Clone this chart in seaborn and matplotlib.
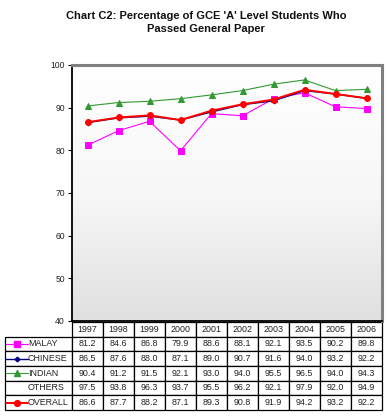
import matplotlib
matplotlib.use("Agg")
import matplotlib.pyplot as plt
from matplotlib.colors import LinearSegmentedColormap
from matplotlib.lines import Line2D
import numpy as np
import pandas as pd
import seaborn as sns

# ─── Data ─────────────────────────────────────────────────────────────────────
years   = [1997, 1998, 1999, 2000, 2001, 2002, 2003, 2004, 2005, 2006]
malay   = [81.2, 84.6, 86.8, 79.9, 88.6, 88.1, 92.1, 93.5, 90.2, 89.8]
chinese = [86.5, 87.6, 88.0, 87.1, 89.0, 90.7, 91.6, 94.0, 93.2, 92.2]
indian  = [90.4, 91.2, 91.5, 92.1, 93.0, 94.0, 95.5, 96.5, 94.0, 94.3]
others  = [97.5, 93.8, 96.3, 93.7, 95.5, 96.2, 92.1, 97.9, 92.0, 94.9]
overall = [86.6, 87.7, 88.2, 87.1, 89.3, 90.8, 91.9, 94.2, 93.2, 92.2]
yticks  = [40, 50, 60, 70, 80, 90, 100]

# ─── Styles ───────────────────────────────────────────────────────────────────
FONT = "Liberation Sans"
series = [
    # name, values, colour, marker, marker size, line width, plotted
    ("MALAY",   malay,   "#ff00ff", "s", 3.8, 0.8, True),
    ("CHINESE", chinese, "#000080", "D", 2.4, 1.0, True),
    ("INDIAN",  indian,  "#339933", "^", 4.2, 0.8, True),
    ("OTHERS",  others,  None,      None, 0,  0,   False),
    ("OVERALL", overall, "#ff0000", "o", 4.2, 1.4, True),
]

sns.set_style("white")
plt.rcParams["font.family"] = [FONT, "DejaVu Sans"]

W, H = 387, 418
fig = plt.figure(figsize=(W / 100, H / 100), dpi=100)
fig.patch.set_facecolor("white")

left, right, top, bottom = 72, 382, 65, 321
ax = fig.add_axes([left / W, 1 - bottom / H, (right - left) / W, (bottom - top) / H])

# gradient plot background, white at the top to light grey at the bottom
cmap = LinearSegmentedColormap.from_list("bg", ["#ffffff", "#f7f7f7", "#e0e0e0"])
grad = np.linspace(0, 1, 256)[:, None]
ax.imshow(grad, extent=[years[0] - 0.5, years[-1] + 0.5, 40, 100],
          origin="upper", aspect="auto", cmap=cmap, zorder=0)

for name, vals, col, mk, ms, lw, show in series:
    if not show:
        continue
    df = pd.DataFrame({"year": years, "pct": vals})
    sns.lineplot(data=df, x="year", y="pct", ax=ax, color=col, marker=mk,
                 markersize=ms, markeredgecolor=col, linewidth=lw, zorder=3)

ax.set_xlim(years[0] - 0.5, years[-1] + 0.5)
ax.set_ylim(40, 100)
ax.set_yticks(yticks)
ax.set_yticklabels([str(t) for t in yticks], fontsize=6.2, color="#222222")
ax.set_xticks([])
ax.set_xlabel("")
ax.set_ylabel("")
ax.tick_params(axis="y", direction="out", length=3, width=0.8, color="black",
               left=True, pad=2)
for s in ["left", "bottom"]:
    ax.spines[s].set_color("black")
    ax.spines[s].set_linewidth(1.3)
for s in ["top", "right"]:
    ax.spines[s].set_color("#808080")
    ax.spines[s].set_linewidth(2.2)

# ─── Data table ───────────────────────────────────────────────────────────────
tab_left, tab_top, tab_bottom = 5, 322, 410
pw = right - left
ph = bottom - top
cell_text = [[name] + [f"{v:.1f}" for v in vals] for name, vals, *_ in series]
label_w = left - tab_left
col_w = [label_w] + [pw / len(years)] * len(years)
tbl = ax.table(
    cellText=cell_text,
    colLabels=[""] + [str(y) for y in years],
    colWidths=col_w,
    cellLoc="center",
    bbox=[(tab_left - left) / pw, -(tab_bottom - bottom) / ph,
          (right - tab_left) / pw, (tab_bottom - tab_top) / ph],
)
tbl.auto_set_font_size(False)
for (r, c), cell in tbl.get_celld().items():
    cell.set_linewidth(0.9)
    cell.set_edgecolor("black")
    cell.set_facecolor("white")
    cell.get_text().set_fontsize(6.4)
    cell.get_text().set_color("#222222")
    cell.get_text().set_fontfamily([FONT, "DejaVu Sans"])
    if r == 0 and c == 0:
        cell.visible_edges = ""
    if c == 0 and r > 0:
        cell.get_text().set_ha("left")
        cell._loc = "left"
        cell.PAD = 0.34

# legend keys inside row-label cells
row_h = (tab_bottom - tab_top) / (len(series) + 1)
for i, (name, vals, col, mk, ms, lw, show) in enumerate(series):
    if not show:
        continue
    yc = 1 - (tab_top + row_h * (i + 1.5)) / H
    fig.add_artist(Line2D([6 / W, 28 / W], [yc, yc], color=col, linewidth=lw,
                          transform=fig.transFigure, zorder=5))
    fig.add_artist(Line2D([17 / W], [yc], color=col, marker=mk, markersize=ms,
                          markeredgecolor=col, transform=fig.transFigure, zorder=6))

# ─── Title ────────────────────────────────────────────────────────────────────
fig.text(206 / W, 1 - 22.5 / H,
         "Chart C2: Percentage of GCE 'A' Level Students Who\nPassed General Paper",
         ha="center", va="center", fontsize=8.0, fontweight="bold",
         linespacing=1.3, color="#111111")

fig.savefig("out.png", dpi=100, facecolor="white")
